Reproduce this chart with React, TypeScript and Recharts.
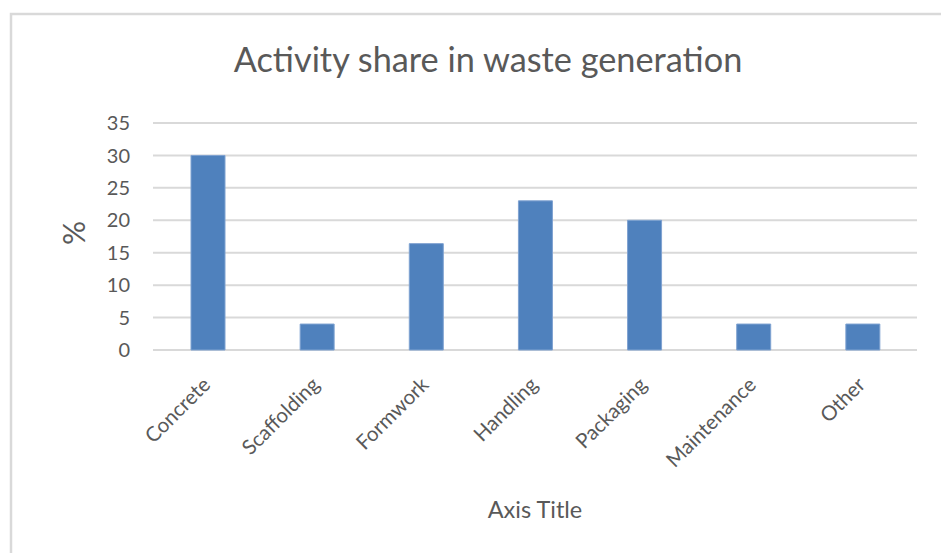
import { BarChart, Bar, XAxis, YAxis, CartesianGrid } from 'recharts';

const categories = ['Concrete', 'Scaffolding', 'Formwork', 'Handling', 'Packaging', 'Maintenance', 'Other'];
const shares = [30, 4, 16.4, 23, 20, 4, 4];
const yTicks = [0, 5, 10, 15, 20, 25, 30, 35];

const chartTitle = 'Activity share in waste generation';
const xTitle = 'Axis Title';
const yTitle = '%';

const FONT = 'Lato, "Open Sans", sans-serif';
const TEXT = '#595959';

const data = categories.map((name, i) => ({ name, share: shares[i] }));

// rotated category labels, anchored at the end like Excel does
function CategoryTick(props: any) {
  const { x, y, payload } = props;
  const px = x + 4;
  const py = y + 36;
  return (
    <text
      x={px}
      y={py}
      textAnchor="end"
      fill={TEXT}
      fontSize={20.5}
      fontFamily={FONT}
      transform={`rotate(-45, ${px}, ${py})`}
    >
      {payload.value}
    </text>
  );
}

export default function App() {
  return (
    <div style={{ position: 'absolute', left: 0, top: 0, width: 941, height: 553, background: '#fff', overflow: 'hidden' }}>
      <BarChart
        width={941}
        height={553}
        data={data}
        margin={{ top: 123, right: 24, bottom: 103, left: 0 }}
        barCategoryGap="31%"
      >
        <CartesianGrid vertical={false} stroke="#d9d9d9" strokeWidth={2} />
        <XAxis
          dataKey="name"
          axisLine={false}
          tickLine={false}
          tickSize={0}
          tickMargin={0}
          height={100}
          interval={0}
          tick={<CategoryTick />}
        />
        <YAxis
          width={153}
          domain={[0, 35]}
          ticks={yTicks}
          interval={0}
          axisLine={false}
          tickLine={false}
          tickSize={0}
          tickMargin={23}
          tick={{ fill: TEXT, fontSize: 20, fontFamily: FONT }}
        />
        <Bar dataKey="share" fill="#4f81bd" stroke="#7fa2d1" strokeWidth={1} barSize={34} isAnimationActive={false} />
      </BarChart>
      <svg width={941} height={553} style={{ position: 'absolute', left: 0, top: 0, pointerEvents: 'none' }}>
        <rect x={11} y={14} width={1000} height={1000} fill="none" stroke="#d9d9d9" strokeWidth={2.5} />
        <text x={488} y={72} textAnchor="middle" fill={TEXT} fontSize={34.3} fontFamily={FONT}>
          {chartTitle}
        </text>
        <text x={535} y={518} textAnchor="middle" fill={TEXT} fontSize={23.5} fontFamily={FONT}>
          {xTitle}
        </text>
        <text
          x={85}
          y={233}
          textAnchor="middle"
          fill={TEXT}
          fontSize={30}
          fontFamily={FONT}
          transform="rotate(-90, 85, 233)"
        >
          {yTitle}
        </text>
      </svg>
    </div>
  );
}
